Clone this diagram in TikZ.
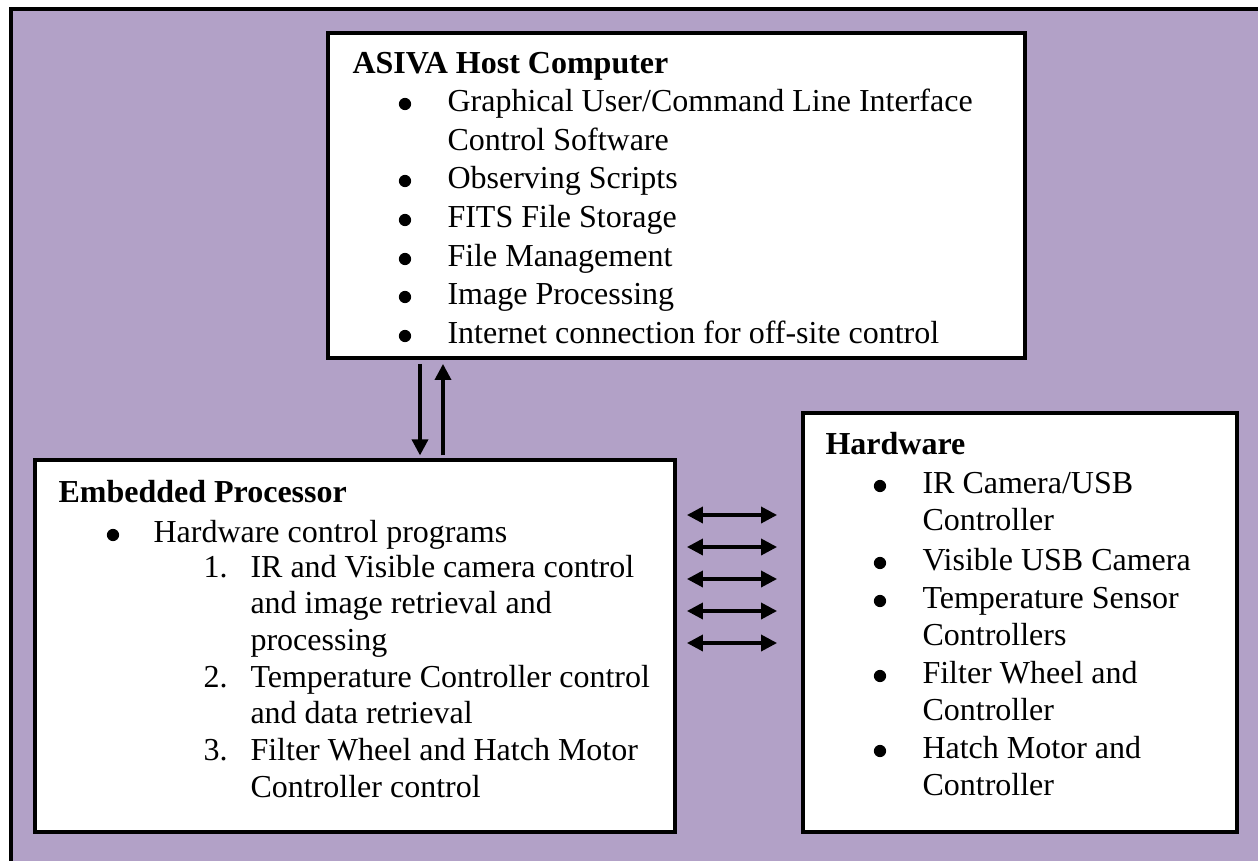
\documentclass[tikz,border=0pt]{standalone}
\usepackage{fontspec}
\setmainfont{Liberation Serif}
\usetikzlibrary{arrows.meta}
\definecolor{bgpurple}{HTML}{B2A1C7}
\begin{document}
\begin{tikzpicture}[x=0.375pt,y=-0.375pt,
  frame/.style={draw=black,line width=1.3pt,fill=bgpurple},
  box/.style={draw=black,line width=1.45pt,fill=white,rectangle,inner sep=0pt},
  txt/.style={anchor=base west,inner sep=0pt,font=\fontsize{12}{14}\selectfont},
  ttl/.style={anchor=base west,inner sep=0pt,font=\fontsize{12}{14}\selectfont\bfseries},
  dot/.style={fill=black},
  arr/.style={line width=1.3pt,-{Triangle[length=6pt,width=6pt]}},
  darr/.style={line width=1.3pt,{Triangle[length=6pt,width=6pt]}-{Triangle[length=6pt,width=6pt]}}]
\useasboundingbox (0,0) rectangle (1258,861);
\clip (0,0) rectangle (1258,861);
\fill[white] (0,0) rectangle (1258,861);
\draw[frame] (11,9) rectangle (1320,920);

% boxes
\node[box,minimum width=261.375pt,minimum height=121.875pt] (host) at (676.5,195.5) {};
\node[box,minimum width=240pt,minimum height=139.5pt] (emb) at (355,646) {};
\node[box,minimum width=162.75pt,minimum height=157.125pt] (hw) at (1020,622.5) {};

% host text
\node[ttl] (h0) at (352,73) {ASIVA Host Computer};
\node[txt] (h1) at (447,111) {Graphical User/Command Line Interface};
\node[txt] (h2) at (447,150) {Control Software};
\node[txt] (h3) at (447,188) {Observing Scripts};
\node[txt] (h4) at (447,227) {FITS File Storage};
\node[txt] (h5) at (447,266) {File Management};
\node[txt] (h6) at (447,304) {Image Processing};
\node[txt] (h7) at (447,343) {Internet connection for off-site control};
\foreach \y in {111,188,227,266,304,343} \fill[dot] (405,\y-7) circle (2.3pt);

% embedded text
\node[ttl] (e0) at (58,502) {Embedded Processor};
\node[txt] (e1) at (153,542) {Hardware control programs};
\fill[dot] (113,535) circle (2.3pt);
\node[txt] (n1) at (203,577) {1.};
\node[txt] (e2) at (250,577) {IR and Visible camera control};
\node[txt] (e3) at (250,613) {and image retrieval and};
\node[txt] (e4) at (250,650) {processing};
\node[txt] (n2) at (203,687) {2.};
\node[txt] (e5) at (250,687) {Temperature Controller control};
\node[txt] (e6) at (250,723) {and data retrieval};
\node[txt] (n3) at (203,760) {3.};
\node[txt] (e7) at (250,760) {Filter Wheel and Hatch Motor};
\node[txt] (e8) at (250,797) {Controller control};

% hardware text
\node[ttl] (w0) at (825,454) {Hardware};
\node[txt] (w1) at (922,493) {IR Camera/USB};
\node[txt] (w2) at (922,530) {Controller};
\node[txt] (w3) at (922,570) {Visible USB Camera};
\node[txt] (w4) at (922,608) {Temperature Sensor};
\node[txt] (w5) at (922,645) {Controllers};
\node[txt] (w6) at (922,683) {Filter Wheel and};
\node[txt] (w7) at (922,720) {Controller};
\node[txt] (w8) at (922,758) {Hatch Motor and};
\node[txt] (w9) at (922,795) {Controller};
\foreach \y in {493,570,608,683,758} \fill[dot] (880,\y-7) circle (2.3pt);

% vertical arrows
\coordinate (vd) at (420,400);
\coordinate (vu) at (443,400);
\draw[arr,shorten <=1.5pt,shorten >=1pt] (vd |- host.south) -- (vd |- emb.north);
\draw[arr,shorten <=1pt,shorten >=1.5pt] (vu |- emb.north) -- (vu |- host.south);

% horizontal arrows
\foreach \y/\n in {515/a,547/b,579/c,611/d,643/e} {
  \coordinate (l\n) at (700,\y);
  \draw[darr,shorten <=3.75pt,shorten >=9pt] (l\n -| emb.east) -- (l\n -| hw.west);
}
\end{tikzpicture}
\end{document}
